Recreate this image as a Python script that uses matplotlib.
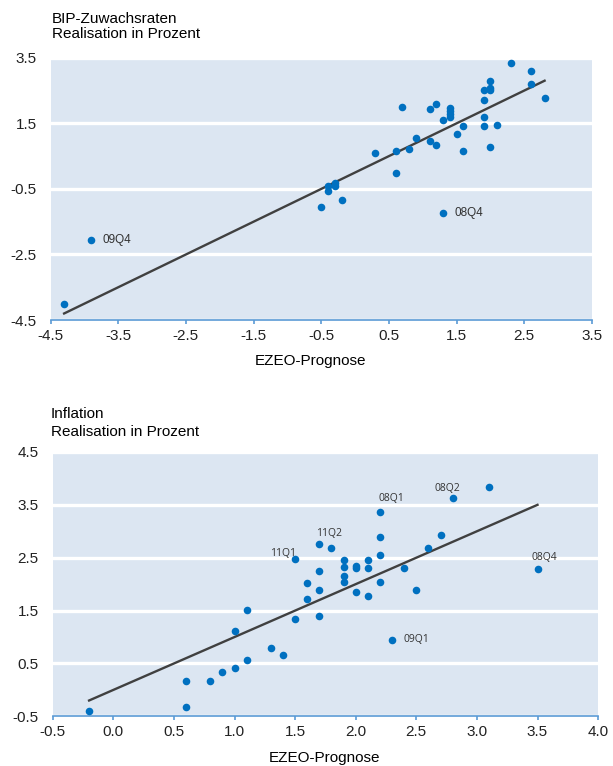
import numpy as np
import matplotlib
matplotlib.use("Agg")
import matplotlib.pyplot as plt

plt.rcParams.update({
    "font.family": ["Liberation Sans", "DejaVu Sans"],
    "font.size": 11,
})

# BIP-Zuwachsraten: EZEO-Prognose vs. Realisation
gdp_prog = [2.3, 2.6, 2.6, 2.8, 2.0, 2.0, 2.0, 1.9, 1.9, 1.9, 1.9, 2.1, 2.0,
            1.6, 1.6, 1.5, 1.4, 1.4, 1.4, 1.4, 1.3, 1.2, 1.1, 1.1, 1.2, 0.9,
            0.8, 0.7, 0.6, 0.6, 0.3, -0.3, -0.3, -0.4, -0.4, -0.2, -0.5,
            1.3, -3.9, -4.3]
gdp_real = [3.35, 3.1, 2.7, 2.28, 2.8, 2.59, 2.51, 2.53, 2.22, 1.68, 1.41,
            1.46, 0.77, 1.43, 0.67, 1.17, 1.96, 1.87, 1.78, 1.7, 1.61, 2.09,
            1.95, 0.95, 0.85, 1.05, 0.71, 2.0, 0.67, 0.0, 0.59, -0.33, -0.42,
            -0.4, -0.56, -0.84, -1.06, -1.22, -2.05, -4.02]
gdp_labels = {"08Q4": (1.3, -1.22), "09Q4": (-3.9, -2.05)}

# Inflation: EZEO-Prognose vs. Realisation
inf_prog = [-0.2, 0.6, 0.6, 0.8, 0.9, 1.0, 1.0, 1.1, 1.1, 1.3, 1.4, 1.5, 1.5,
            1.6, 1.6, 1.7, 1.7, 1.7, 1.7, 1.8, 1.9, 1.9, 1.9, 1.9, 2.0, 2.0,
            2.0, 2.1, 2.1, 2.1, 2.2, 2.2, 2.2, 2.2, 2.3, 2.4, 2.5, 2.6, 2.7,
            2.8, 3.1, 3.5]
inf_real = [-0.39, 0.16, -0.33, 0.16, 0.34, 0.42, 1.11, 0.57, 1.52, 0.8, 0.66,
            1.35, 2.48, 2.02, 1.71, 2.76, 2.24, 1.89, 1.4, 2.69, 2.46, 2.32,
            2.15, 2.05, 2.35, 2.3, 1.86, 2.46, 2.31, 1.78, 3.36, 2.89, 2.56,
            2.04, 0.95, 2.3, 1.88, 2.68, 2.93, 3.63, 3.84, 2.29]
inf_labels = {"11Q1": (1.5, 2.48), "11Q2": (1.7, 2.76), "08Q1": (2.2, 3.36),
              "08Q2": (2.8, 3.63), "08Q4": (3.5, 2.29), "09Q1": (2.3, 0.95)}

BG = "#dce6f2"
DOT = "#0070c0"
SPINE = "#5b9bd5"
LINE = "#404040"

# label placement (offset in points, alignment)
inf_label_pos = {"11Q1": ((1, 3.5), "right"), "11Q2": ((-2.6, 7.7), "left"),
                 "08Q1": ((-0.7, 9.8), "left"), "08Q2": ((-3.7, 6.5), "center"),
                 "08Q4": ((4.8, 8.4), "center"), "09Q1": ((7.9, 0), "left")}

fig = plt.figure(figsize=(6.13, 7.66), dpi=100)
ax1 = fig.add_axes([0.0825, 0.5822, 0.8832, 0.3424])
ax2 = fig.add_axes([0.086, 0.0648, 0.8897, 0.3452])


def style(ax, xlim, ylim, xticks, yticks, xfmt):
    ax.set_facecolor(BG)
    ax.set_xlim(*xlim)
    ax.set_ylim(*ylim)
    ax.set_xticks(xticks)
    ax.set_xticklabels([xfmt.format(t) for t in xticks])
    ax.set_yticks(yticks)
    ax.set_yticklabels(["{:.1f}".format(t) for t in yticks])
    for s in ["top", "right", "left"]:
        ax.spines[s].set_visible(False)
    ax.spines["bottom"].set_color(SPINE)
    ax.spines["bottom"].set_linewidth(1.2)
    ax.tick_params(axis="x", colors=SPINE, labelcolor="#222222", length=3,
                   width=1.2, pad=3.5, labelsize=11)
    ax.tick_params(axis="y", length=0, pad=10, labelcolor="#222222", labelsize=11)
    ax.grid(axis="y", color="white", linewidth=2.4)
    ax.set_axisbelow(True)


style(ax1, (-4.5, 3.5), (-4.5, 3.5), np.arange(-4.5, 3.6, 1.0),
      np.arange(-4.5, 3.6, 2.0), "{:.1f}")
style(ax2, (-0.5, 4.0), (-0.5, 4.5), np.arange(-0.5, 4.01, 0.5),
      np.arange(-0.5, 4.6, 1.0), "{:.1f}")

# 45-degree line across the forecast range
for ax, xs in [(ax1, gdp_prog), (ax2, inf_prog)]:
    lo, hi = min(xs), max(xs)
    ax.plot([lo, hi], [lo, hi], color=LINE, lw=1.7, zorder=2)

ax1.scatter(gdp_prog, gdp_real, s=30, color=DOT, zorder=3, linewidths=0)
ax2.scatter(inf_prog, inf_real, s=30, color=DOT, zorder=3, linewidths=0)

for name, (x, y) in gdp_labels.items():
    ax1.annotate(name, (x, y), xytext=(8, 0), textcoords="offset points",
                 ha="left", va="center", fontsize=8.5, color="#333333")

for name, (x, y) in inf_labels.items():
    off, ha = inf_label_pos[name]
    ax2.annotate(name, (x, y), xytext=off, textcoords="offset points",
                 ha=ha, va="center", fontsize=7.5, color="#333333",
                 family=["Open Sans", "DejaVu Sans"])

H = 766.0
W = 613.0
fig.text(52 / W, 1 - 22.7 / H, "BIP-Zuwachsraten", va="baseline", ha="left")
fig.text(52 / W, 1 - 38.3 / H, "Realisation in Prozent", va="baseline", ha="left")
fig.text(51 / W, 1 - 418.3 / H, "Inflation", va="baseline", ha="left")
fig.text(51 / W, 1 - 435.7 / H, "Realisation in Prozent", va="baseline", ha="left")
fig.text(310 / W, 1 - 365 / H, "EZEO-Prognose", va="baseline", ha="center")
fig.text(325 / W, 1 - 762 / H, "EZEO-Prognose", va="baseline", ha="center")

fig.savefig("out.png", dpi=100, facecolor="white")
